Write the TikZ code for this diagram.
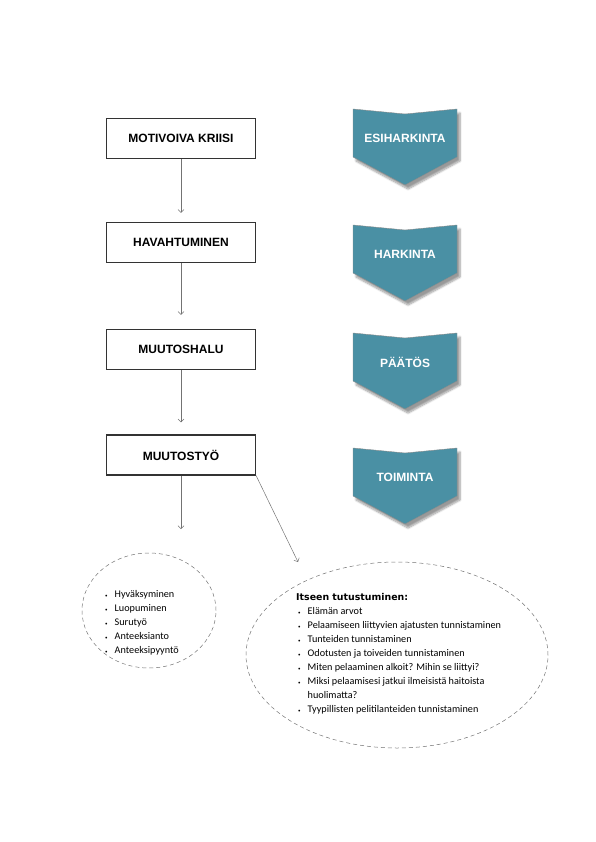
\documentclass[tikz,border=0pt]{standalone}
\usepackage{fontspec}
\setmainfont{Carlito}
\newfontfamily\boxfont{Liberation Sans}
\newfontfamily\headfont{DejaVu Sans}
\usetikzlibrary{arrows.meta,shapes.geometric,shadows.blur}
\definecolor{chevcol}{HTML}{4A90A4}
\newcommand\bul{\makebox[9.5pt][l]{\fontsize{5}{5}\selectfont\textbullet}}

\tikzset{
  stage/.style={draw=black!80, line width=1.2pt, fill=white, minimum width=149pt, minimum height=40pt, inner sep=0pt, font=\boxfont\bfseries\fontsize{12}{14}\selectfont},
  link/.style={draw=black!55, line width=0.5pt, -{Straight Barb[length=3pt,width=6pt]}},
  chevron/.style={fill=chevcol, draw=black!45, line width=0.4pt, blur shadow={shadow xshift=3pt, shadow yshift=-4pt, shadow blur steps=8}},
  chevtext/.style={text=white, font=\boxfont\bfseries\fontsize{12}{14}\selectfont},
  bubble/.style={ellipse, draw=black!55, line width=0.5pt, dash pattern=on 4pt off 3pt, inner sep=0pt},
  list/.style={align=left, inner sep=0pt, font=\fontsize{10.2}{14}\selectfont}
}

\begin{document}
\begin{tikzpicture}[x=1pt,y=-1pt]
\useasboundingbox (0,0) rectangle (595,842);

% vaiheet
\node[stage] (kriisi) at (181,138.5) {MOTIVOIVA KRIISI};
\node[stage] (havahtuminen) at (181,242.5) {HAVAHTUMINEN};
\node[stage] (muutoshalu) at (181,349.5) {MUUTOSHALU};
\node[stage] (muutostyo) at (181,455) {MUUTOSTYÖ};

\draw[link, shorten >=9pt] (kriisi) -- (havahtuminen);
\draw[link, shorten >=14pt] (havahtuminen) -- (muutoshalu);
\draw[link, shorten >=12pt] (muutoshalu) -- (muutostyo);

\coordinate (vasen) at (181,529);
\coordinate (oikea) at (298,562);
\draw[link] (muutostyo) -- (vasen);
\draw[link] (muutostyo.south east) -- (oikea);

% nuolet oikealla
\foreach \y/\nimi/\teksti in {109/esi/ESIHARKINTA, 225/harkinta/HARKINTA, 333/paatos/PÄÄTÖS, 448/toiminta/TOIMINTA}{
  \filldraw[chevron] (353,\y) -- (405,\y+5) -- (457,\y) -- (457,\y+48) -- (405,\y+76) -- (353,\y+48) -- cycle;
  \node[chevtext] (\nimi) at (405,\y+29) {\teksti};
}

% kuplat
\node[bubble, minimum width=134pt, minimum height=115pt] (kupla1) at (149,610.5) {};
\node[bubble, minimum width=302pt, minimum height=186pt] (kupla2) at (397,655) {};

\node[list, anchor=north west] (lista1) at (105,590.5) {\bul Hyväksyminen\\ \bul Luopuminen\\ \bul Surutyö\\ \bul Anteeksianto\\ \bul Anteeksipyyntö};

\node[list, anchor=north west] (lista2) at (296,593) {{\headfont\bfseries\fontsize{9.4}{14}\selectfont Itseen tutustuminen:}\\
  \hspace*{2pt}\bul Elämän arvot\\
  \hspace*{2pt}\bul Pelaamiseen liittyvien ajatusten tunnistaminen\\
  \hspace*{2pt}\bul Tunteiden tunnistaminen\\
  \hspace*{2pt}\bul Odotusten ja toiveiden tunnistaminen\\
  \hspace*{2pt}\bul Miten pelaaminen alkoit? Mihin se liittyi?\\
  \hspace*{2pt}\bul Miksi pelaamisesi jatkui ilmeisistä haitoista\\
  \hspace*{11.5pt}huolimatta?\\
  \hspace*{2pt}\bul Tyypillisten pelitilanteiden tunnistaminen};
\end{tikzpicture}
\end{document}
